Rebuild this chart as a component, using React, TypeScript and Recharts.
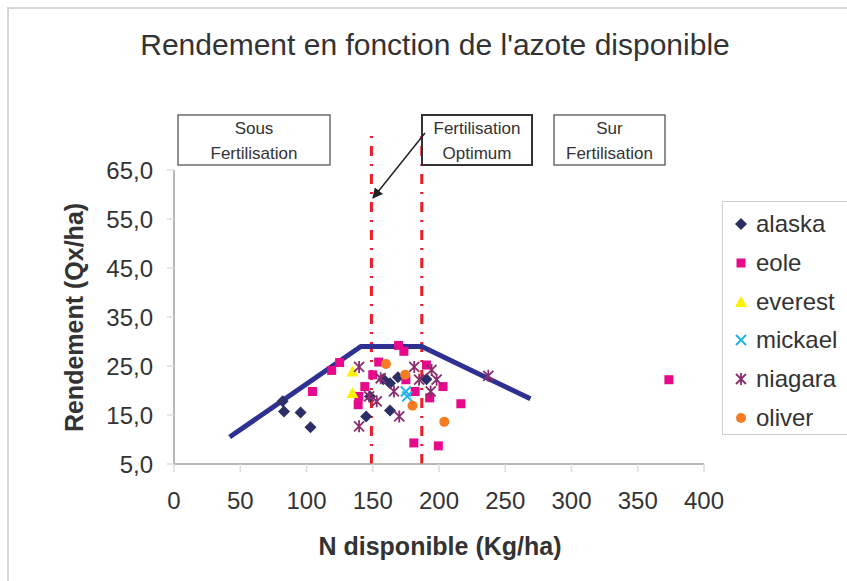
import {
  ScatterChart,
  Scatter,
  XAxis,
  YAxis,
  ReferenceLine,
} from "recharts";

// Rendement (Qx/ha) vs N disponible (Kg/ha)
const alaska = [
  { x: 82, y: 17.8 }, { x: 83, y: 15.7 }, { x: 95.5, y: 15.5 }, { x: 103, y: 12.5 },
  { x: 145, y: 14.7 }, { x: 148, y: 18.8 }, { x: 158, y: 22.3 }, { x: 163, y: 21.5 },
  { x: 169, y: 22.7 }, { x: 163, y: 15.9 }, { x: 190.5, y: 22.3 },
];
const eole = [
  { x: 104.5, y: 19.8 }, { x: 119, y: 24.1 }, { x: 125, y: 25.7 }, { x: 139, y: 17.1 },
  { x: 139.5, y: 18.8 }, { x: 144, y: 20.8 }, { x: 150, y: 23.2 }, { x: 154.5, y: 25.8 },
  { x: 169.5, y: 29.2 }, { x: 173.5, y: 28 }, { x: 175, y: 22.2 }, { x: 182, y: 19.8 },
  { x: 190.5, y: 25.2 }, { x: 193, y: 18.5 }, { x: 203, y: 20.8 }, { x: 216.5, y: 17.3 },
  { x: 181, y: 9.3 }, { x: 199.5, y: 8.7 }, { x: 373.5, y: 22.2 },
];
const everest = [{ x: 134.7, y: 23.9 }, { x: 134.7, y: 19.5 }];
const mickael = [{ x: 175, y: 19.8 }, { x: 176, y: 18.8 }];
const niagara = [
  { x: 139.7, y: 24.8 }, { x: 139.7, y: 12.7 }, { x: 147.3, y: 18.8 }, { x: 153, y: 17.8 },
  { x: 156, y: 22.5 }, { x: 166, y: 19.8 }, { x: 170, y: 14.7 }, { x: 181.3, y: 24.8 },
  { x: 185, y: 22.2 }, { x: 194.4, y: 24.2 }, { x: 198.2, y: 22.2 }, { x: 193.7, y: 19.8 },
  { x: 237.2, y: 23 },
];
const oliver = [
  { x: 160, y: 25.4 }, { x: 174.5, y: 23.2 }, { x: 180, y: 16.9 }, { x: 204, y: 13.6 },
];

// response curve (plateau)
const courbe = [
  { x: 42, y: 10.5 }, { x: 141, y: 29 }, { x: 187, y: 29 }, { x: 269, y: 18.3 },
];

// optimum window limits
const optimumMin = 149;
const optimumMax = 187;

const xTicks = [0, 50, 100, 150, 200, 250, 300, 350, 400];
const yTicks = [5, 15, 25, 35, 45, 55, 65];

const COLORS = {
  alaska: "#2c2e66",
  eole: "#e8088a",
  everest: "#fff200",
  mickael: "#1fb4ea",
  niagara: "#8a2d6e",
  oliver: "#f57c22",
  courbe: "#2e3192",
  optimum: "#ee1c25",
  frame: "#a59c9c",
  text: "#333333",
};

const FONT = "'Liberation Sans', Arial, sans-serif";

type Mark = { cx?: number; cy?: number };

const Diamond = ({ cx = 0, cy = 0 }: Mark) => (
  <path d={`M${cx},${cy - 6}L${cx + 6},${cy}L${cx},${cy + 6}L${cx - 6},${cy}Z`} fill={COLORS.alaska} />
);
const Square = ({ cx = 0, cy = 0 }: Mark) => (
  <rect x={cx - 4.5} y={cy - 4.5} width={9} height={9} fill={COLORS.eole} />
);
const Triangle = ({ cx = 0, cy = 0 }: Mark) => (
  <path d={`M${cx},${cy - 6}L${cx + 6},${cy + 5}L${cx - 6},${cy + 5}Z`} fill={COLORS.everest} />
);
const Cross = ({ cx = 0, cy = 0 }: Mark) => (
  <path
    d={`M${cx - 5},${cy - 5}L${cx + 5},${cy + 5}M${cx + 5},${cy - 5}L${cx - 5},${cy + 5}`}
    stroke={COLORS.mickael}
    strokeWidth={2}
  />
);
const Star = ({ cx = 0, cy = 0 }: Mark) => (
  <path
    d={`M${cx - 5},${cy - 5}L${cx + 5},${cy + 5}M${cx + 5},${cy - 5}L${cx - 5},${cy + 5}M${cx},${cy - 6}L${cx},${cy + 6}`}
    stroke={COLORS.niagara}
    strokeWidth={1.8}
  />
);
const Dot = ({ cx = 0, cy = 0 }: Mark) => <circle cx={cx} cy={cy} r={5} fill={COLORS.oliver} />;
const NoMark = () => <g />;

const legendItems = [
  { name: "alaska", Shape: Diamond },
  { name: "eole", Shape: Square },
  { name: "everest", Shape: Triangle },
  { name: "mickael", Shape: Cross },
  { name: "niagara", Shape: Star },
  { name: "oliver", Shape: Dot },
];

const Box = ({ x, w, lines, bold }: { x: number; w: number; lines: string[]; bold?: boolean }) => (
  <g>
    <rect x={x} y={115} width={w} height={50} fill="#fff" stroke={bold ? "#333" : "#555"} strokeWidth={bold ? 2 : 1.3} />
    {lines.map((l, i) => (
      <text key={i} x={x + w / 2} y={134 + i * 24.5} textAnchor="middle" fontSize={17} fill={COLORS.text}>
        {l}
      </text>
    ))}
  </g>
);

export default function App() {
  return (
    <div style={{ position: "absolute", left: 0, top: 0, width: 847, height: 581, background: "#fff", fontFamily: FONT, overflow: "hidden" }}>
      <div style={{ position: "absolute", left: 7, top: 7, width: 900, height: 700, borderTop: "2px solid #d6d6d6", borderLeft: "2px solid #d6d6d6" }} />
      <ScatterChart
        width={847}
        height={581}
        margin={{ top: 170, right: 143, bottom: 57, left: 104 }}
        style={{ position: "absolute", left: 0, top: 0 }}
      >
        <XAxis
          type="number"
          dataKey="x"
          domain={[0, 400]}
          ticks={xTicks}
          height={60}
          allowDataOverflow
          stroke={COLORS.frame}
          strokeWidth={1.5}
          tickSize={8}
          tickMargin={20}
          tickLine={{ stroke: "#dddddd" }}
          tick={{ fontSize: 24, fill: COLORS.text, fontFamily: FONT }}
        />
        <YAxis
          type="number"
          dataKey="y"
          domain={[5, 65]}
          ticks={yTicks}
          width={70}
          allowDataOverflow
          stroke={COLORS.frame}
          strokeWidth={1.5}
          tickSize={7}
          tickMargin={14}
          tickLine={{ stroke: "#dddddd" }}
          tickFormatter={(v: number) => v.toFixed(1).replace(".", ",")}
          tick={{ fontSize: 24, fill: COLORS.text, fontFamily: FONT }}
        />
        <XAxis xAxisId="top" orientation="top" type="number" dataKey="x" domain={[0, 400]} height={0} tick={false} stroke={COLORS.frame} />
        <YAxis yAxisId="right" orientation="right" type="number" dataKey="y" domain={[5, 65]} width={0} tick={false} stroke={COLORS.frame} />

        <ReferenceLine
          segment={[{ x: optimumMin, y: 5 }, { x: optimumMin, y: 72.3 }]}
          ifOverflow="visible"
          stroke={COLORS.optimum}
          strokeWidth={3}
          strokeDasharray="10 8 2 8"
        />
        <ReferenceLine
          segment={[{ x: optimumMax, y: 5 }, { x: optimumMax, y: 72.3 }]}
          ifOverflow="visible"
          stroke={COLORS.optimum}
          strokeWidth={3}
          strokeDasharray="10 8 2 8"
        />

        <Scatter name="courbe" data={courbe} line={{ stroke: COLORS.courbe, strokeWidth: 5 }} shape={NoMark} isAnimationActive={false} />
        <Scatter name="alaska" data={alaska} shape={Diamond} isAnimationActive={false} />
        <Scatter name="eole" data={eole} shape={Square} isAnimationActive={false} />
        <Scatter name="everest" data={everest} shape={Triangle} isAnimationActive={false} />
        <Scatter name="mickael" data={mickael} shape={Cross} isAnimationActive={false} />
        <Scatter name="niagara" data={niagara} shape={Star} isAnimationActive={false} />
        <Scatter name="oliver" data={oliver} shape={Dot} isAnimationActive={false} />
      </ScatterChart>

      <svg width={847} height={581} style={{ position: "absolute", left: 0, top: 0, pointerEvents: "none", fontFamily: FONT }}>
        <defs>
          <marker id="tip" viewBox="0 0 10 10" refX={9} refY={5} markerWidth={7} markerHeight={7} orient="auto">
            <path d="M0,0L10,5L0,10Z" fill="#222" />
          </marker>
        </defs>
        <text x={435} y={55} textAnchor="middle" fontSize={30} fill={COLORS.text}>
          Rendement en fonction de l'azote disponible
        </text>
        <Box x={178} w={152} lines={["Sous", "Fertilisation"]} />
        <Box x={422} w={110} lines={["Fertilisation", "Optimum"]} bold />
        <Box x={554} w={111} lines={["Sur", "Fertilisation"]} />
        <line x1={425} y1={133} x2={373} y2={198} stroke="#222" strokeWidth={1.5} markerEnd="url(#tip)" />
        <text x={440} y={555} textAnchor="middle" fontSize={25} fontWeight="bold" fill={COLORS.text}>
          N disponible (Kg/ha)
        </text>
        <text x={83} y={317.5} textAnchor="middle" fontSize={25} fontWeight="bold" fill={COLORS.text} transform="rotate(-90 83 317.5)">
          Rendement (Qx/ha)
        </text>
      </svg>

      <div
        style={{
          position: "absolute",
          left: 722,
          top: 201,
          width: 140,
          height: 234,
          border: "1px solid #cfcfcf",
          boxSizing: "border-box",
          padding: "3px 0 0 10px",
        }}
      >
        {legendItems.map(({ name, Shape }) => (
          <div key={name} style={{ display: "flex", alignItems: "center", height: 38.7, fontSize: 24, color: COLORS.text }}>
            <svg width={16} height={16} style={{ marginRight: 7 }}>
              <Shape cx={8} cy={8} />
            </svg>
            {name}
          </div>
        ))}
      </div>
    </div>
  );
}
